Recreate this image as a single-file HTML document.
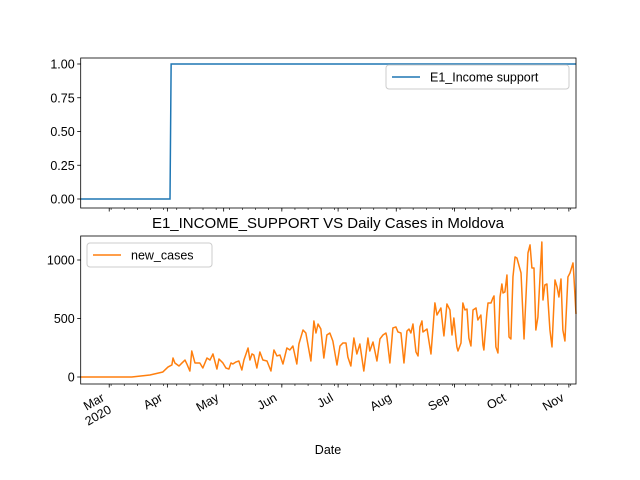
<!DOCTYPE html>
<html><head><meta charset="utf-8"><style>
body{margin:0;background:#fff;}
svg{display:block;font-family:"Liberation Sans","DejaVu Sans",sans-serif;}
</style></head><body>
<svg id="chart" width="640" height="480" viewBox="0 0 640 480"></svg>
<script>
// Days are offsets from 2020-03-01
const policyDays = [-15.2, 32.4, 33, 248.8];
const policyValues = [0, 0, 1, 1];
const caseDays = [-15.2,12,21.7,28.6,31.3,33.4,34,35,37.2,38.8,40.4,41.4,43,44,45.7,48.3,49.9,52.1,53.7,55.3,57.4,58.5,60.6,62.2,63.8,64.9,65.9,67.5,69.1,70.7,71.8,74,75,76.1,77.1,78.7,80.3,81.9,84.1,86.2,87.8,89.4,91,92.6,94.7,96.3,97.9,100,101.1,103.3,104.8,107.5,109.1,110.2,111.3,112.8,114.4,116,117.6,119.2,121.4,123,124.6,126.2,127.2,128.8,130.4,132,133.6,135.7,137.9,138.9,140.6,142.7,144.3,145.9,147.5,148,149.6,151.2,152.8,153.9,155.5,157.1,158.7,159.8,160.8,161.9,163.5,164.6,165.6,166.7,167.2,169.4,171.5,173.6,174.7,176.8,177.9,178.4,180,181.6,182.7,183.7,185.3,185.9,187.5,188.5,189.6,190.7,191.7,192.8,193.9,195.5,196.5,198.1,199.2,199.7,201.3,201.9,203.5,204.5,205.1,206.1,207.2,208.3,209.3,209.9,210.9,212,213.1,214.1,215.2,216.3,217.3,219.5,221.1,223.2,224.3,225.3,226.4,227.4,228.5,230.6,231.2,232.2,233.3,234.9,236,237.6,238.7,239.7,240.8,241.8,242.9,244.5,245.6,247.2,247.7,248.8];
const caseValues = [0,0,17,43,85,103,162,120,94,120,145,111,51,222,120,120,77,162,145,197,68,154,120,77,68,120,111,128,137,60,145,248,145,197,188,77,214,145,137,51,231,180,188,111,248,231,265,111,282,402,376,137,479,376,453,410,162,359,376,308,103,265,291,291,171,94,333,197,282,51,333,222,299,137,325,359,376,342,120,419,428,385,376,120,393,410,376,453,214,180,428,479,385,410,197,633,530,590,419,351,624,573,359,504,257,222,291,633,573,581,333,265,573,590,487,530,274,231,547,633,633,675,693,257,205,684,795,718,727,872,342,325,855,1026,1017,889,325,1060,1129,932,932,402,513,1154,658,787,795,402,257,829,770,684,838,402,308,855,889,975,855,539];
const monthLabels = ["Mar\n2020","Apr","May","Jun","Jul","Aug","Sep","Oct","Nov"];
const monthDays = [0,31,61,92,122,153,184,214,245];
const topTicks = [0,0.25,0.5,0.75,1.0];
const topTickLabels = ["0.00","0.25","0.50","0.75","1.00"];
const botTicks = [0,500,1000];
const botTickLabels = ["0","500","1000"];

const NS="http://www.w3.org/2000/svg";
const svg=document.getElementById('chart');
function mk(tag,attrs,parent){const e=document.createElementNS(NS,tag);for(const k in attrs)e.setAttribute(k,attrs[k]);(parent||svg).appendChild(e);return e;}
const X0=80.7,X1=576,DMIN=-15.2,DMAX=248.8;
const xs=d=>X0+(d-DMIN)/(DMAX-DMIN)*(X1-X0);
const T0=58,T1=208; const ysTop=v=>199-v*135;
const B0=236,B1=384; const ysBot=v=>377-v*0.117;

function axes(top,bottom,name,ysF,ticks,labels,showX){
  const g=mk('g',{});
  
  
  ticks.forEach((t,i)=>{
    const y=ysF(t);
    mk('line',{x1:X0-3.5,x2:X0,y1:y,y2:y,stroke:'#000','stroke-width':0.8},g);
    const tx=mk('text',{x:X0-6,y:y+4.5,'text-anchor':'end','font-size':'12.5',fill:'#000'},g);
    
    
    tx.textContent=labels[i];
  });
  for(let d=1;d<DMAX;d+=7){const x=xs(d);mk('line',{x1:x,x2:x,y1:bottom,y2:bottom+2,stroke:'#000','stroke-width':0.6},g);}
  monthDays.forEach((d,i)=>{
    const x=xs(d);
    mk('line',{x1:x,x2:x,y1:bottom,y2:bottom+3.5,stroke:'#000','stroke-width':0.8},g);
    if(showX){
      const lines=monthLabels[i].split('\n');
      lines.forEach((ln,j)=>{
        const tx=mk('text',{'text-anchor':'end','font-size':'12.5',fill:'#000',transform:`translate(${x-4+j*7},${bottom+16+j*12}) rotate(-30)`},g);
        
        
        tx.textContent=ln;
      });
    }
  });
  return g;
}
axes(T0,T1,'top-axes',ysTop,topTicks,topTickLabels,false);
axes(B0,B1,'bottom-axes',ysBot,botTicks,botTickLabels,true);

const p1=mk('polyline',{points:policyDays.map((d,i)=>xs(d)+','+ysTop(policyValues[i])).join(' '),fill:'none',stroke:'#1f77b4','stroke-width':1.5});


const p2=mk('polyline',{points:caseDays.map((d,i)=>xs(d)+','+ysBot(caseValues[i])).join(' '),fill:'none',stroke:'#ff7f0e','stroke-width':1.5,'stroke-linejoin':'round'});



const f1=mk('rect',{x:X0,y:T0,width:X1-X0,height:T1-T0,fill:'none',stroke:'#000','stroke-width':0.8});


const f2=mk('rect',{x:X0,y:B0,width:X1-X0,height:B1-B0,fill:'none',stroke:'#000','stroke-width':0.8});



function legend(x,y,w,color,label,name){
  const g=mk('g',{});
  
  
  mk('rect',{x:x,y:y,width:w,height:24,rx:3,fill:'#fff','fill-opacity':0.8,stroke:'#ccc','stroke-width':1},g);
  mk('line',{x1:x+6,x2:x+34,y1:y+12,y2:y+12,stroke:color,'stroke-width':1.5},g);
  const t=mk('text',{x:x+44,y:y+16.5,'font-size':'12.5',fill:'#000'},g);
  t.textContent=label;
}
legend(386,65,183,'#1f77b4','E1_Income support','legend-income-support');
legend(87,243,125,'#ff7f0e','new_cases','legend-new-cases');

const title=mk('text',{x:328,y:228,'text-anchor':'middle','font-size':'15',fill:'#000'});


title.textContent='E1_INCOME_SUPPORT VS Daily Cases in Moldova';
const xt=mk('text',{x:328,y:454,'text-anchor':'middle','font-size':'12.5',fill:'#000'});


xt.textContent='Date';
</script>
</body></html>
